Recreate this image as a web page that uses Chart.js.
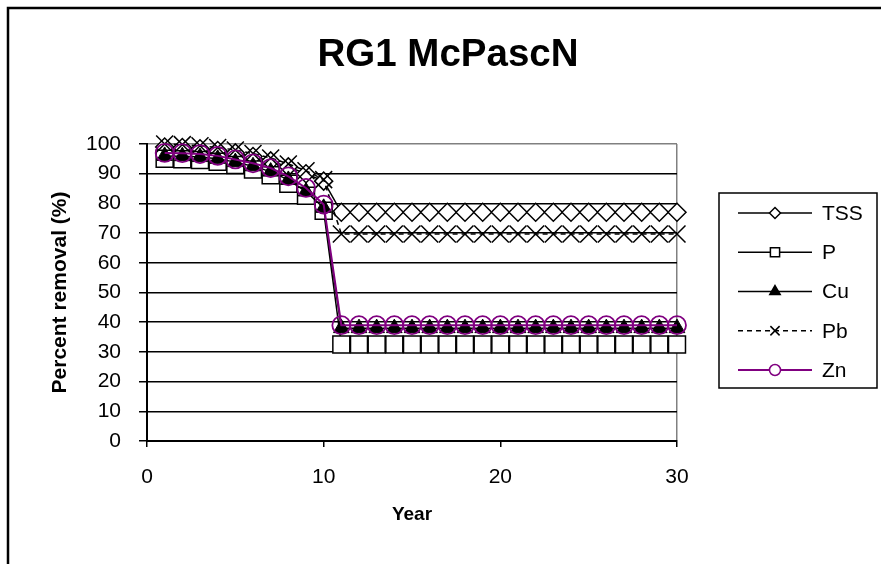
<!DOCTYPE html>
<html><head><meta charset="utf-8">
<script src="https://cdn.jsdelivr.net/npm/chart.js@4"></script>
<style>html,body{margin:0;padding:0;background:#fff}</style>
</head><body>
<canvas id="c" width="881" height="564"></canvas>
<script>
// ---- data ----
const years = [1,2,3,4,5,6,7,8,9,10,11,12,13,14,15,16,17,18,19,20,21,22,23,24,25,26,27,28,29,30];
const tss = [99,98.8,98.4,97.8,97,95.8,94.3,92.3,90,87.5,77,77,77,77,77,77,77,77,77,77,77,77,77,77,77,77,77,77,77,77];
const pP  = [95,94.9,94.6,94,92.9,91.4,89.5,86.6,82.6,77.5,32.5,32.5,32.5,32.5,32.5,32.5,32.5,32.5,32.5,32.5,32.5,32.5,32.5,32.5,32.5,32.5,32.5,32.5,32.5,32.5];
const cu  = [96,95.9,95.6,95,93.9,92.5,90.7,87.9,84,78.5,38,38,38,38,38,38,38,38,38,38,38,38,38,38,38,38,38,38,38,38];
const pb  = [100,99.8,99.4,98.8,98,96.8,95.3,93.3,91,88,69.7,69.7,69.7,69.7,69.7,69.7,69.7,69.7,69.7,69.7,69.7,69.7,69.7,69.7,69.7,69.7,69.7,69.7,69.7,69.7];
const zn  = [97,96.9,96.6,96,94.8,93.5,91.9,89.1,85.2,79.6,39,39,39,39,39,39,39,39,39,39,39,39,39,39,39,39,39,39,39,39];
const seriesNames = ['TSS','P','Cu','Pb','Zn'];
const xTickStep = 10, xMin = 0, xMax = 30;
const yTickStep = 10, yMin = 0, yMax = 100;
const chartTitle = 'RG1 McPascN';
const xTitle = 'Year';
const yTitle = 'Percent removal (%)';

// ---- styling ----
const FONT = "'Liberation Sans', Arial, Helvetica, sans-serif";
Chart.defaults.font.family = FONT;
Chart.defaults.color = '#000';
const PURPLE = '#800080';
const pts = arr => years.map((x, i) => ({x: x, y: arr[i]}));
const legendRadius = [5.5, 6.5, 6, 6.5, 5.5];

const datasets = [
  {label: seriesNames[0], data: pts(tss), borderColor: '#000', borderWidth: 1.5, pointStyle: 'rectRot', pointRadius: 9,
   pointBackgroundColor: '#fff', pointBorderColor: '#000', pointBorderWidth: 1.5, order: 5, clip: false},
  {label: seriesNames[1], data: pts(pP), borderColor: '#000', borderWidth: 1.5, pointStyle: 'rect', pointRadius: 12,
   pointBackgroundColor: '#fff', pointBorderColor: '#000', pointBorderWidth: 1.5, order: 4, clip: false},
  {label: seriesNames[2], data: pts(cu), borderColor: '#000', borderWidth: 1.5, pointStyle: 'triangle', pointRadius: 9,
   pointBackgroundColor: '#000', pointBorderColor: '#000', pointBorderWidth: 1, order: 3, clip: false},
  {label: seriesNames[3], data: pts(pb), borderColor: '#000', borderWidth: 1.5, borderDash: [5, 4], pointStyle: 'crossRot', pointRadius: 12,
   pointBackgroundColor: '#000', pointBorderColor: '#000', pointBorderWidth: 1.5, order: 2, clip: false},
  {label: seriesNames[4], data: pts(zn), borderColor: PURPLE, borderWidth: 2, pointStyle: 'circle', pointRadius: 9,
   pointBackgroundColor: 'rgba(0,0,0,0)', pointBorderColor: PURPLE, pointBorderWidth: 1.8, order: 1, clip: false}
];

const framePlugin = {
  id: 'framePlugin',
  beforeDraw(chart) {
    const ctx = chart.ctx;
    ctx.save();
    ctx.fillStyle = '#fff';
    ctx.fillRect(0, 0, chart.width, chart.height);
    ctx.restore();
  },
  afterDraw(chart) {
    const ctx = chart.ctx;
    ctx.save();
    ctx.strokeStyle = '#000';
    ctx.lineWidth = 2.5;
    ctx.beginPath();
    ctx.moveTo(8, chart.height);
    ctx.lineTo(8, 8);
    ctx.lineTo(chart.width, 8);
    ctx.stroke();
    const L = {x: 719, y: 193, w: 158, h: 195};
    ctx.lineWidth = 1.5;
    ctx.strokeRect(L.x, L.y, L.w, L.h);
    chart.data.datasets.forEach((ds, i) => {
      const y = L.y + 20 + i * 39.25;
      ctx.save();
      ctx.strokeStyle = ds.borderColor;
      ctx.lineWidth = ds.borderWidth;
      ctx.setLineDash(ds.borderDash || []);
      ctx.beginPath();
      ctx.moveTo(L.x + 19, y);
      ctx.lineTo(L.x + 93, y);
      ctx.stroke();
      ctx.setLineDash([]);
      ctx.fillStyle = ds.pointStyle === 'triangle' ? '#000' : '#fff';
      ctx.strokeStyle = ds.pointBorderColor;
      ctx.lineWidth = 1.5;
      Chart.helpers.drawPoint(ctx, {pointStyle: ds.pointStyle, radius: legendRadius[i], borderWidth: 1.5, rotation: 0}, L.x + 56, y);
      ctx.restore();
      ctx.fillStyle = '#000';
      ctx.font = '21px ' + FONT;
      ctx.textBaseline = 'middle';
      ctx.textAlign = 'left';
      ctx.fillText(ds.label, L.x + 103, y + 1);
    });
    ctx.restore();
  }
};

new Chart(document.getElementById('c'), {
  type: 'line',
  data: {datasets: datasets},
  plugins: [framePlugin],
  options: {
    responsive: false,
    animation: false,
    layout: {padding: {left: 15, right: 0, top: 0, bottom: 0}},
    plugins: {
      legend: {display: false},
      tooltip: {enabled: false},
      title: {display: true, text: chartTitle, color: '#000',
              font: {family: FONT, size: 38.5, weight: 'bold'}, padding: {top: 32.4, bottom: 65.4}}
    },
    scales: {
      x: {
        type: 'linear', min: xMin, max: xMax,
        afterFit: s => { s.height = 123; },
        ticks: {stepSize: xTickStep, font: {size: 21}, color: '#000', padding: 18, maxRotation: 0},
        grid: {drawOnChartArea: true, color: c => (c.tick && c.tick.value === xMax) ? '#808080' : 'rgba(0,0,0,0)',
               tickColor: '#000', tickLength: 6, lineWidth: 1.5},
        border: {display: true, color: '#000', width: 2},
        title: {display: true, text: xTitle, color: '#000', font: {size: 19, weight: 'bold'}, padding: {top: 0, bottom: 38}}
      },
      y: {
        min: yMin, max: yMax,
        afterFit: s => { s.width = 132; },
        ticks: {stepSize: yTickStep, font: {size: 21}, color: '#000', padding: 18},
        grid: {color: c => (c.tick && c.tick.value === yMax) ? '#808080' : '#000', tickColor: '#000', tickLength: 8, lineWidth: 1.5},
        border: {color: '#000', width: 2},
        title: {display: true, text: yTitle, color: '#000', font: {size: 21, weight: 'bold'}, padding: {top: 32.4, bottom: 0}}
      },
      yR: {
        position: 'right', min: yMin, max: yMax, display: true,
        afterFit: s => { s.width = 204; },
        ticks: {display: false},
        grid: {display: false, drawTicks: false},
        border: {display: false}
      }
    }
  }
});
</script>
</body></html>
